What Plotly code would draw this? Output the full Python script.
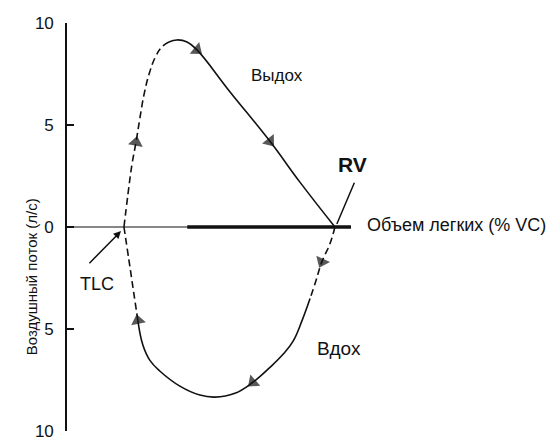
import plotly.graph_objects as go

# Flow-volume loop: volume in % VC (0 = TLC, 100 = RV), flow in l/s
exp_volume = [0, 1.9, 3.8, 5.7, 7.6, 9.5, 11.8, 14.7, 18.0, 21.3, 25.1, 29.9, 34.6, 50.2, 69.2, 83.4, 100]
exp_flow = [0, 1.61, 3.07, 4.15, 5.37, 6.49, 7.46, 8.29, 8.83, 9.07, 9.17, 9.07, 8.68, 6.63, 4.20, 2.20, 0]

insp_volume = [100, 97.6, 93.8, 91.0, 88.2, 84.4, 80.1, 75.4, 69.2, 61.1, 52.6, 43.1, 36.0, 26.5,
               17.1, 12.3, 9.0, 6.6, 4.7, 2.4, 0]
insp_flow = [0, -0.83, -1.71, -2.63, -3.51, -4.59, -5.61, -6.24, -6.88, -7.61, -8.15, -8.34, -8.24,
             -7.80, -7.07, -6.54, -5.80, -4.59, -3.27, -1.66, 0]

# which points carry a direction arrow
exp_arrows = [3, 12, 14]
insp_arrows = [2, 9, 17]

# dashed stretches (index ranges) of each branch
exp_dashed = [(0, 9)]
exp_solid = [(9, 16)]
insp_dashed = [(0, 4), (17, 20)]
insp_solid = [(4, 17)]

flow_ticks = [-10, -5, 0, 5, 10]
flow_tick_text = ["10", "5", "0", "5", "10"]

volume_axis_extent = [-27, 107.6]
volume_axis_bold_from = 30

INK = "#111111"
FONT = "Liberation Sans, Arial, sans-serif"

fig = go.Figure()

# horizontal volume axis
fig.add_trace(go.Scatter(x=volume_axis_extent, y=[0, 0], mode="lines",
                         line=dict(color=INK, width=1.2), hoverinfo="skip"))
fig.add_trace(go.Scatter(x=[volume_axis_bold_from, volume_axis_extent[1]], y=[0, 0], mode="lines",
                         line=dict(color=INK, width=3.5), hoverinfo="skip"))


def add_branch(xs, ys, ranges, dash):
    for a, b in ranges:
        fig.add_trace(go.Scatter(x=xs[a:b + 1], y=ys[a:b + 1], mode="lines",
                                 line=dict(color=INK, width=1.6, dash=dash,
                                           shape="spline", smoothing=1.2),
                                 hoverinfo="skip"))


def add_arrows(xs, ys, idx):
    for i in idx:
        fig.add_trace(go.Scatter(
            x=[xs[i - 1], xs[i]], y=[ys[i - 1], ys[i]], mode="markers",
            marker=dict(symbol="triangle-up", size=[0, 13], color=INK,
                        angleref="previous", line=dict(width=0)),
            hoverinfo="skip"))


add_branch(exp_volume, exp_flow, exp_dashed, "7px,4px")
add_branch(exp_volume, exp_flow, exp_solid, "solid")
add_branch(insp_volume, insp_flow, insp_dashed, "7px,4px")
add_branch(insp_volume, insp_flow, insp_solid, "solid")
add_arrows(exp_volume, exp_flow, exp_arrows)
add_arrows(insp_volume, insp_flow, insp_arrows)

annotations = [
    dict(x=72.3, y=7.44, text="Выдох", font=dict(size=17)),
    dict(x=102.1, y=-5.95, text="Вдох", font=dict(size=19)),
    dict(x=108.1, y=3.07, text="<b>RV</b>", font=dict(size=21)),
    dict(x=114.2, y=0.1, text="Объем легких (% VC)", xanchor="left", font=dict(size=18)),
    dict(x=-12.6, y=-2.80, text="TLC", font=dict(size=18)),
    dict(x=100.9, y=0.15, ax=109.5, ay=2.24, axref="x", ayref="y", text="",
         showarrow=True, arrowhead=0, arrowwidth=1.5, arrowcolor=INK),
    dict(x=-1.4, y=-0.2, ax=-17.1, ay=-1.85, axref="x", ayref="y", text="",
         showarrow=True, arrowhead=2, arrowsize=1, arrowwidth=1.5, arrowcolor=INK),
    dict(x=-0.0935, y=-2.44, xref="paper", text="Воздушный поток (л/с)", textangle=-90,
         font=dict(size=15)),
]
for a in annotations:
    a.setdefault("xref", "x")
    a.setdefault("yref", "y")
    a.setdefault("showarrow", False)
    a["font"] = dict(family=FONT, color=INK, **a["font"]) if "font" in a else dict(family=FONT, color=INK)
    fig.add_annotation(**a)

fig.update_layout(
    width=559, height=441,
    margin=dict(l=67, r=0, t=23, b=8),
    paper_bgcolor="white", plot_bgcolor="white",
    showlegend=False,
    font=dict(family=FONT, color=INK),
    xaxis=dict(visible=False, range=[-27.0, 206.2], fixedrange=True),
    yaxis=dict(range=[-10, 10], tickvals=flow_ticks, ticktext=flow_tick_text,
               showline=True, linecolor=INK, linewidth=1.6, ticks="inside",
               ticklen=7, tickwidth=1.6, tickcolor=INK, showgrid=False,
               zeroline=False, tickfont=dict(size=17, family=FONT, color=INK),
               ticklabelstandoff=8, ticklabeloverflow="allow"),
)

fig.write_html("out.html")
